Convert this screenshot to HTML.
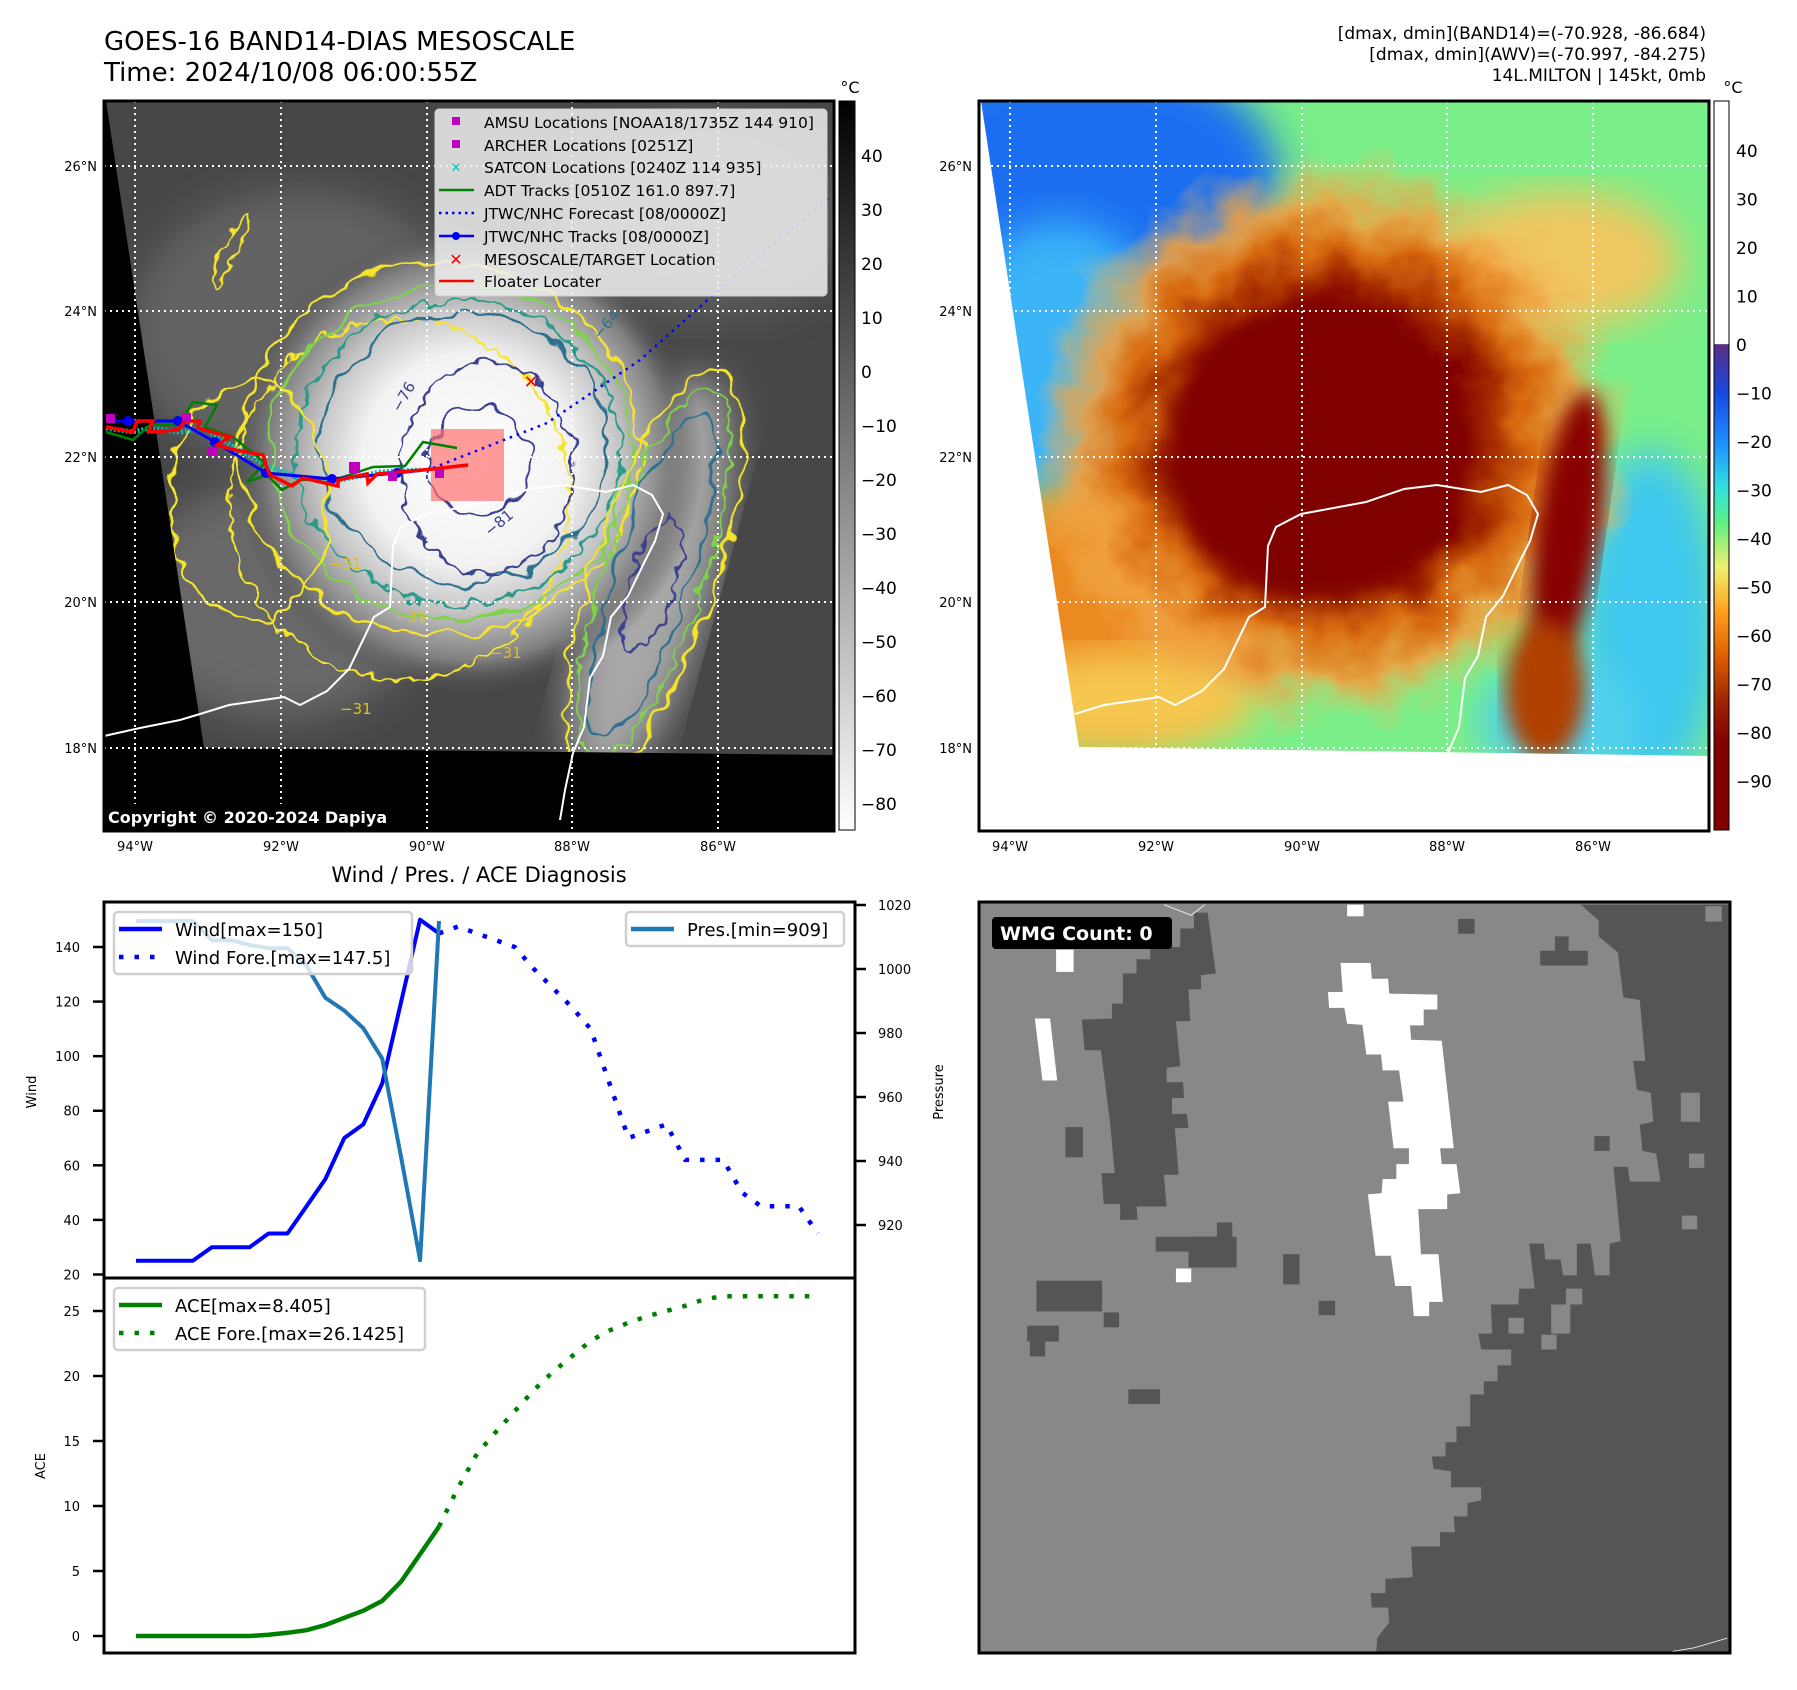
<!DOCTYPE html>
<html><head><meta charset="utf-8"><style>
html,body{margin:0;padding:0;background:#fff;}
svg{display:block;font-family:"DejaVu Sans","Liberation Sans",sans-serif;}
</style></head><body>
<svg id="fig" width="1797" height="1690" viewBox="0 0 1797 1690" xmlns="http://www.w3.org/2000/svg">
<defs>
  <clipPath id="clipL"><rect x="104" y="101" width="730" height="730"/></clipPath>
  <clipPath id="clipR"><rect x="979" y="101" width="730" height="730"/></clipPath>
  <filter id="wob" x="-20%" y="-20%" width="140%" height="140%">
    <feTurbulence type="fractalNoise" baseFrequency="0.035" numOctaves="2" seed="4"/>
    <feDisplacementMap in="SourceGraphic" scale="26" xChannelSelector="R" yChannelSelector="G"/>
  </filter>
  <filter id="wob2" x="-20%" y="-20%" width="140%" height="140%">
    <feTurbulence type="fractalNoise" baseFrequency="0.06" numOctaves="2" seed="9"/>
    <feDisplacementMap in="SourceGraphic" scale="20" xChannelSelector="R" yChannelSelector="G"/>
  </filter>
  <filter id="wob3" x="-20%" y="-20%" width="140%" height="140%">
    <feTurbulence type="fractalNoise" baseFrequency="0.02" numOctaves="3" seed="2"/>
    <feDisplacementMap in="SourceGraphic" scale="60" xChannelSelector="R" yChannelSelector="G"/>
  </filter>
  <filter id="blur20"><feGaussianBlur stdDeviation="20"/></filter>
  <filter id="blur10"><feGaussianBlur stdDeviation="10"/></filter>
  <radialGradient id="eyeG" cx="0.5" cy="0.5" r="0.5">
    <stop offset="0" stop-color="#ffffff"/>
    <stop offset="0.45" stop-color="#f2f2f2"/>
    <stop offset="0.65" stop-color="#c4c4c4"/>
    <stop offset="0.85" stop-color="#808080"/>
    <stop offset="1" stop-color="#4a4a4a" stop-opacity="0"/>
  </radialGradient>
  <radialGradient id="stormG" cx="0.5" cy="0.5" r="0.5">
    <stop offset="0" stop-color="#800000"/>
    <stop offset="0.45" stop-color="#820000"/>
    <stop offset="0.56" stop-color="#a83000"/>
    <stop offset="0.68" stop-color="#d86a10"/>
    <stop offset="0.82" stop-color="#f0a040" stop-opacity="0.9"/>
    <stop offset="1" stop-color="#f0c060" stop-opacity="0"/>
  </radialGradient>
  <linearGradient id="cbGray" x1="0" y1="0" x2="0" y2="1">
    <stop offset="0" stop-color="#000"/><stop offset="1" stop-color="#fff"/>
  </linearGradient>
  <linearGradient id="cbJet" x1="0" y1="0" x2="0" y2="1">
    <stop offset="0" stop-color="#fff"/>
    <stop offset="0.333" stop-color="#fff"/>
    <stop offset="0.334" stop-color="#5a2d82"/>
    <stop offset="0.40" stop-color="#1848e0"/>
    <stop offset="0.47" stop-color="#1e90ff"/>
    <stop offset="0.53" stop-color="#30e0e0"/>
    <stop offset="0.58" stop-color="#60f080"/>
    <stop offset="0.64" stop-color="#f0f070"/>
    <stop offset="0.70" stop-color="#ffa020"/>
    <stop offset="0.76" stop-color="#e06000"/>
    <stop offset="0.82" stop-color="#a02800"/>
    <stop offset="0.88" stop-color="#800000"/>
    <stop offset="1" stop-color="#800000"/>
  </linearGradient>
</defs>

<text x="104" y="50" font-size="26" fill="#000">GOES-16 BAND14-DIAS MESOSCALE</text>
<text x="104" y="81" font-size="26" fill="#000">Time: 2024/10/08 06:00:55Z</text>
<g font-size="17" text-anchor="end" fill="#000">
  <text x="1706" y="39">[dmax, dmin](BAND14)=(-70.928, -86.684)</text>
  <text x="1706" y="60">[dmax, dmin](AWV)=(-70.997, -84.275)</text>
  <text x="1706" y="81">14L.MILTON | 145kt, 0mb</text>
</g>

<!-- LEFT MAP -->
<g>
  <g clip-path="url(#clipL)">
    <rect x="104" y="101" width="730" height="730" fill="#474747"/>
    <ellipse cx="300" cy="330" rx="170" ry="140" fill="#707070" filter="url(#blur20)" opacity="0.7"/>
    <ellipse cx="700" cy="220" rx="150" ry="100" fill="#6a6a6a" filter="url(#blur20)" opacity="0.6"/>
    <ellipse cx="280" cy="600" rx="150" ry="120" fill="#777" filter="url(#blur20)" opacity="0.7"/>
    <ellipse cx="650" cy="580" rx="60" ry="210" transform="rotate(15 650 580)" fill="#a8a8a8" filter="url(#blur20)"/>
    <circle cx="468" cy="460" r="235" fill="url(#eyeG)"/>
    <g fill="none" stroke-width="2.5">
      <ellipse cx="440" cy="450" rx="200" ry="185" stroke="#f5e52a" filter="url(#wob)"/>
      <ellipse cx="400" cy="500" rx="170" ry="180" stroke="#f5e52a" filter="url(#wob2)"/>
      <ellipse cx="452" cy="452" rx="180" ry="168" stroke="#7ed348" filter="url(#wob)"/>
      <ellipse cx="458" cy="452" rx="162" ry="152" stroke="#2a9a8a" filter="url(#wob2)"/>
      <ellipse cx="464" cy="448" rx="143" ry="135" stroke="#2d6f8e" filter="url(#wob)"/>
      <ellipse cx="487" cy="468" rx="86" ry="106" stroke="#3b3f8f" filter="url(#wob2)"/>
      <ellipse cx="478" cy="462" rx="50" ry="55" stroke="#3b3f8f" filter="url(#wob)"/>
      <ellipse cx="654" cy="574" rx="62" ry="215" transform="rotate(18 654 574)" stroke="#f5e52a" filter="url(#wob)"/>
      <ellipse cx="654" cy="574" rx="50" ry="195" transform="rotate(18 654 574)" stroke="#7ed348" filter="url(#wob2)"/>
      <ellipse cx="654" cy="574" rx="38" ry="170" transform="rotate(18 654 574)" stroke="#2d6f8e" filter="url(#wob)"/>
      <ellipse cx="652" cy="585" rx="22" ry="70" transform="rotate(18 652 585)" stroke="#3b3f8f" filter="url(#wob2)"/>
      <ellipse cx="250" cy="500" rx="80" ry="120" stroke="#f5e52a" filter="url(#wob)"/>
      <ellipse cx="230" cy="250" rx="8" ry="40" transform="rotate(25 230 250)" stroke="#f5e52a" filter="url(#wob2)"/>
    </g>
    <g font-size="15">
      <text x="400" y="413" fill="#3b3f8f" transform="rotate(-60 400 413)">−76</text>
      <text x="490" y="537" fill="#3b3f8f" transform="rotate(-40 490 537)">−81</text>
      <text x="600" y="340" fill="#2d6f8e" transform="rotate(-50 600 340)">−64</text>
      <text x="330" y="569" fill="#e0c020">−31</text>
      <text x="395" y="622" fill="#e0c020">−31</text>
      <text x="490" y="658" fill="#e0c020">−31</text>
      <text x="340" y="714" fill="#e0c020">−31</text>
    </g>
    <polygon points="104,101 106,101 204,748 834,755 834,831 104,831" fill="#000"/>
    <polyline fill="none" stroke="#fff" stroke-width="2" points="200,714 229,705 284,697 300,705 327,691 349,669 374,617 390,607 393,546 401,527 426,514 491,502 529,489 562,485 606,492 633,485 652,495 663,514 655,541 644,563 628,596 611,617 603,656 590,678 584,727 573,753 565,790 560,820"/>
    <polyline fill="none" stroke="#fff" stroke-width="2" points="104,736 140,728 180,720 200,714"/>
    <g stroke="#fff" stroke-width="2" stroke-dasharray="2,4">
      <line x1="135" y1="101" x2="135" y2="831"/><line x1="281" y1="101" x2="281" y2="831"/>
      <line x1="427" y1="101" x2="427" y2="831"/><line x1="572" y1="101" x2="572" y2="831"/>
      <line x1="718" y1="101" x2="718" y2="831"/>
      <line x1="104" y1="166" x2="834" y2="166"/><line x1="104" y1="311" x2="834" y2="311"/>
      <line x1="104" y1="457" x2="834" y2="457"/><line x1="104" y1="602" x2="834" y2="602"/>
      <line x1="104" y1="748" x2="834" y2="748"/>
    </g>
    <rect x="431" y="429" width="73" height="72" fill="#ff7070" opacity="0.7"/>
    <polyline fill="none" stroke="#0000ff" stroke-width="2.5" stroke-dasharray="2.5,5" points="433,468 547,423 640,360 730,280 829,198"/>
    <polyline fill="none" stroke="#00c0c0" stroke-width="5" stroke-dasharray="2,2" points="106,428 133,432 150,428 180,432 205,428 235,448 265,465 300,478 340,480 380,472 420,470"/>
    <polyline fill="none" stroke="#008000" stroke-width="2.5" points="106,432 133,440 150,425 178,425 193,402 217,405 205,427 233,437 265,463 247,482 267,475 282,490 300,480 340,478 373,467 405,466 423,442 457,448"/>
    <polyline fill="none" stroke="#0000ff" stroke-width="3" points="106,421 128,421 178,421 215,442 266,473 332,479 397,473 433,469"/>
    <g fill="#0000ff">
      <circle cx="128" cy="421" r="5"/><circle cx="178" cy="421" r="5"/><circle cx="215" cy="442" r="5"/>
      <circle cx="266" cy="473" r="5"/><circle cx="332" cy="479" r="5"/><circle cx="397" cy="473" r="5"/>
    </g>
    <polyline fill="none" stroke="#ff0000" stroke-width="3.5" points="106,427 133,432 137,421 153,421 149,432 178,430 185,421 200,421 198,428 230,437 217,445 235,450 263,455 267,468 270,475 292,486 303,478 338,486 338,480 367,474 368,483 377,474 433,469 468,465"/>
    <g fill="#c000c0">
      <rect x="106" y="414" width="9" height="9"/><rect x="182" y="413" width="9" height="9"/><rect x="208" y="447" width="9" height="9"/>
      <rect x="349" y="462" width="11" height="11"/><rect x="388" y="472" width="9" height="9"/><rect x="435" y="469" width="9" height="9"/>
    </g>
    <text x="531" y="388" font-size="18" font-weight="bold" fill="#ff0000" text-anchor="middle">✕</text>
    <g>
      <rect x="435" y="109" width="392" height="187" rx="4" fill="#f0f0f0" fill-opacity="0.85" stroke="#d0d0d0"/>
      <g font-size="15.5" fill="#000">
        <rect x="452" y="117" width="8" height="8" fill="#c000c0"/><text x="484" y="128">AMSU Locations [NOAA18/1735Z 144 910]</text>
        <rect x="452" y="140" width="8" height="8" fill="#c000c0"/><text x="484" y="151">ARCHER Locations [0251Z]</text>
        <text x="456" y="172" fill="#00c0c0" text-anchor="middle" font-size="13" font-weight="bold">✕</text><text x="484" y="173">SATCON Locations [0240Z 114 935]</text>
        <line x1="439" y1="190" x2="474" y2="190" stroke="#008000" stroke-width="2.5"/><text x="484" y="196">ADT Tracks [0510Z 161.0 897.7]</text>
        <line x1="439" y1="213" x2="474" y2="213" stroke="#0000ff" stroke-width="2.5" stroke-dasharray="2.5,4"/><text x="484" y="219">JTWC/NHC Forecast [08/0000Z]</text>
        <line x1="439" y1="236" x2="474" y2="236" stroke="#0000ff" stroke-width="2.5"/><circle cx="456" cy="236" r="4" fill="#0000ff"/><text x="484" y="242">JTWC/NHC Tracks [08/0000Z]</text>
        <text x="456" y="265" fill="#ff0000" text-anchor="middle" font-size="16" font-weight="bold">✕</text><text x="484" y="265">MESOSCALE/TARGET Location</text>
        <line x1="439" y1="281" x2="474" y2="281" stroke="#ff0000" stroke-width="2.5"/><text x="484" y="287">Floater Locater</text>
      </g>
    </g>
    <rect x="104" y="804" width="306" height="26" rx="3" fill="#000"/>
    <text x="108" y="823" font-size="16" font-weight="bold" fill="#fff">Copyright © 2020-2024 Dapiya</text>
  </g>
  <rect x="104" y="101" width="730" height="730" fill="none" stroke="#000" stroke-width="3"/>
</g>
<g font-size="13" text-anchor="end">
  <text x="97" y="171">26°N</text><text x="97" y="316">24°N</text><text x="97" y="462">22°N</text><text x="97" y="607">20°N</text><text x="97" y="753">18°N</text>
</g>
<g font-size="13" text-anchor="middle">
  <text x="135" y="851">94°W</text><text x="281" y="851">92°W</text><text x="427" y="851">90°W</text><text x="572" y="851">88°W</text><text x="718" y="851">86°W</text>
</g>
<g>
  <rect x="839" y="101" width="16" height="729" fill="url(#cbGray)" stroke="#000" stroke-width="1"/>
  <text x="850" y="93" font-size="16" text-anchor="middle">°C</text>
  <g id="cbL" font-size="17"></g>
</g>

<!-- RIGHT MAP -->
<g>
  <g clip-path="url(#clipR)">
    <rect x="979" y="101" width="730" height="730" fill="#fff"/>
    <rect x="979" y="101" width="730" height="660" fill="#7aee88"/>
    <ellipse cx="1080" cy="180" rx="200" ry="130" fill="#1e6ef0" filter="url(#blur20)"/>
    <ellipse cx="1060" cy="360" rx="110" ry="140" fill="#3ab4f8" filter="url(#blur20)"/>
    <ellipse cx="1650" cy="620" rx="70" ry="170" fill="#40c8f0" filter="url(#blur20)"/>
    <ellipse cx="1560" cy="720" rx="80" ry="60" fill="#50d0f0" filter="url(#blur20)"/>
    <ellipse cx="1110" cy="610" rx="150" ry="130" fill="#ec8a20" filter="url(#blur20)"/>
    <ellipse cx="1130" cy="700" rx="130" ry="50" fill="#f6c850" filter="url(#blur20)"/>
    <ellipse cx="1560" cy="260" rx="120" ry="70" fill="#f0c860" filter="url(#blur20)"/>
    <ellipse cx="1330" cy="440" rx="300" ry="285" fill="url(#stormG)" filter="url(#wob3)"/>
    <ellipse cx="1320" cy="450" rx="150" ry="150" fill="#800000" filter="url(#blur10)"/>
    <ellipse cx="1568" cy="530" rx="32" ry="140" transform="rotate(8 1568 530)" fill="#880000" filter="url(#blur10)"/>
    <ellipse cx="1545" cy="690" rx="40" ry="70" fill="#b04000" filter="url(#blur10)"/>
    <polygon points="979,101 981,101 1079,747 1709,756 1709,831 979,831" fill="#fff"/>
    <polyline fill="none" stroke="#fff" stroke-width="2" points="1075,714 1104,705 1159,697 1175,705 1202,691 1224,669 1249,617 1265,607 1268,546 1276,527 1301,514 1366,502 1404,489 1437,485 1481,492 1508,485 1527,495 1538,514 1530,541 1519,563 1503,596 1486,617 1478,656 1465,678 1459,727 1448,753"/>
    <g stroke="#fff" stroke-width="2" stroke-dasharray="2,4">
      <line x1="1010" y1="101" x2="1010" y2="831"/><line x1="1156" y1="101" x2="1156" y2="831"/>
      <line x1="1302" y1="101" x2="1302" y2="831"/><line x1="1447" y1="101" x2="1447" y2="831"/>
      <line x1="1593" y1="101" x2="1593" y2="831"/>
      <line x1="979" y1="166" x2="1709" y2="166"/><line x1="979" y1="311" x2="1709" y2="311"/>
      <line x1="979" y1="457" x2="1709" y2="457"/><line x1="979" y1="602" x2="1709" y2="602"/>
      <line x1="979" y1="748" x2="1709" y2="748"/>
    </g>
  </g>
  <rect x="979" y="101" width="730" height="730" fill="none" stroke="#000" stroke-width="3"/>
</g>
<g font-size="13" text-anchor="end">
  <text x="972" y="171">26°N</text><text x="972" y="316">24°N</text><text x="972" y="462">22°N</text><text x="972" y="607">20°N</text><text x="972" y="753">18°N</text>
</g>
<g font-size="13" text-anchor="middle">
  <text x="1010" y="851">94°W</text><text x="1156" y="851">92°W</text><text x="1302" y="851">90°W</text><text x="1447" y="851">88°W</text><text x="1593" y="851">86°W</text>
</g>
<g>
  <rect x="1714" y="101" width="15" height="729" fill="url(#cbJet)" stroke="#000" stroke-width="1"/>
  <text x="1733" y="93" font-size="16" text-anchor="middle">°C</text>
  <g id="cbR" font-size="17"></g>
</g>

<!-- CHART -->
<text x="479" y="882" font-size="21" text-anchor="middle">Wind / Pres. / ACE Diagnosis</text>
<g id="chart"></g>

<!-- WMG -->
<g>
  <svg x="979" y="902" width="751" height="751" viewBox="72 80 1373 1418" preserveAspectRatio="none">
    <rect x="72" y="80" width="1373" height="1418" fill="#888888"/>
    <g fill="#555555">
      <polygon points="1172,85 1205,115 1205,145 1240,175 1250,260 1280,265 1290,380 1268,380 1275,435 1300,440 1305,495 1280,500 1285,550 1310,555 1318,608 1262,608 1258,580 1232,580 1245,720 1225,725 1225,785 1198,785 1190,725 1165,725 1165,785 1140,785 1135,755 1107,755 1105,725 1078,725 1088,810 1060,810 1058,840 1008,840 1010,895 985,895 990,925 1045,925 1045,955 1020,955 1020,985 995,985 995,1010 970,1010 970,1070 945,1070 945,1100 925,1100 925,1127 900,1127 903,1150 935,1155 935,1185 990,1185 990,1210 965,1215 965,1240 940,1240 942,1270 915,1270 915,1297 862,1297 865,1355 815,1358 815,1385 788,1385 790,1412 820,1412 822,1440 800,1470 798,1498 1445,1498 1445,85"/>
      <polygon points="465,100 490,100 505,215 478,218 478,245 455,245 458,305 432,305 440,390 415,393 415,420 445,420 447,450 425,450 425,480 452,480 455,507 430,507 437,595 410,595 415,655 360,655 362,680 330,680 330,650 300,650 296,592 320,592 312,500 295,360 265,360 260,302 315,300 315,272 335,272 335,215 360,215 360,188 385,188 385,165 440,165 440,130 465,130"/>
      <rect x="395" y="712" width="115" height="28"/><rect x="455" y="712" width="88" height="58"/><rect x="507" y="685" width="28" height="30"/>
      <rect x="628" y="745" width="30" height="57"/><rect x="693" y="833" width="30" height="27"/><rect x="230" y="505" width="32" height="57"/>
      <rect x="177" y="795" width="120" height="58"/><rect x="300" y="855" width="28" height="28"/><rect x="160" y="880" width="58" height="30"/>
      <rect x="165" y="910" width="28" height="28"/><rect x="345" y="1000" width="58" height="28"/><rect x="948" y="112" width="30" height="28"/>
      <rect x="1125" y="145" width="25" height="30"/><rect x="1098" y="172" width="87" height="28"/><rect x="1197" y="522" width="28" height="28"/>
    </g>
    <g fill="#888888">
      <rect x="1355" y="440" width="35" height="55"/><rect x="1370" y="555" width="28" height="27"/><rect x="1357" y="672" width="28" height="26"/>
      <rect x="1400" y="88" width="30" height="29"/><rect x="1040" y="865" width="28" height="30"/><rect x="1100" y="897" width="28" height="28"/>
      <rect x="1118" y="840" width="35" height="55"/><rect x="1145" y="810" width="30" height="30"/><rect x="938" y="1213" width="27" height="27"/>
    </g>
    <g fill="#ffffff">
      <rect x="745" y="85" width="30" height="22"/><rect x="213" y="170" width="32" height="42"/>
      <polygon points="174,300 202,300 215,417 188,417"/><rect x="432" y="772" width="28" height="26"/>
      <polygon points="733,195 788,195 790,225 820,225 822,253 910,255 910,283 885,283 885,313 860,313 862,340 918,342 940,545 915,545 918,575 945,575 952,630 928,632 928,660 875,660 880,745 912,745 920,835 895,835 895,862 867,862 862,805 833,805 825,748 797,748 783,632 808,630 810,603 835,603 835,575 858,575 858,545 830,545 820,457 848,457 840,398 810,398 807,368 780,368 773,312 745,310 740,280 712,280 710,250 737,250"/>
    </g>
    <polyline points="410,85 460,105 485,85" fill="none" stroke="#fff" stroke-width="1.5"/>
    <polyline points="1340,1495 1380,1488 1440,1470" fill="none" stroke="#fff" stroke-width="1.5"/>
  </svg>
  <rect x="979" y="902" width="751" height="751" fill="none" stroke="#000" stroke-width="3"/>
  <rect x="992" y="917" width="180" height="32" rx="4" fill="#000"/>
  <text x="1000" y="940" font-size="19" font-weight="bold" fill="#fff">WMG Count: 0</text>
</g>

<script>
const windObs = [25,25,25,25,30,30,30,35,35,45,55,70,75,90,120,150,145];
const windFc = [145,147.5,145,142.5,140,132,125,118,110,90,70,72.5,75,62,62,62,50,45,45,45,35];
const presObs = [1015,1015,1015,1015,1009,1009,1007.5,1006.5,1006.5,1001,991,987,981.5,972,941,909,1015];
const aceObs = [0,0,0,0,0,0,0,0.1,0.25,0.45,0.85,1.4,1.95,2.7,4.2,6.3,8.405];
const aceFc = [8.405,11.4,14.0,15.7,17.3,18.9,20.3,21.5,22.7,23.5,24.1,24.6,25.0,25.4,25.9,26.14,26.14,26.14,26.14,26.14,26.14];
const windTicks = [20,40,60,80,100,120,140];
const presTicks = [920,940,960,980,1000,1020];
const aceTicks = [0,5,10,15,20,25];
const cbLTicks = [40,30,20,10,0,-10,-20,-30,-40,-50,-60,-70,-80];
const cbRTicks = [40,30,20,10,0,-10,-20,-30,-40,-50,-60,-70,-80,-90];

const NS = 'http://www.w3.org/2000/svg';
function mk(tag, attrs, parent){ const e=document.createElementNS(NS,tag); for(const k in attrs) e.setAttribute(k,attrs[k]); parent.appendChild(e); return e; }
const xAt = i => 136 + i*18.94;
const yWind = v => 947 + (140 - v)*2.729;
const yPres = v => 905 + (1020 - v)*3.2;
const yAce = v => 1636 - v*13;
const yCbL = v => 156 + (40 - v)*5.4;
const yCbR = v => 151 + (40 - v)*4.85;

const cbL = document.getElementById('cbL');
cbLTicks.forEach(v=>{
  const t = mk('text',{x:861,y:yCbL(v)+6},cbL); t.textContent = v<0 ? '\u2212'+(-v) : String(v);
  
  
});
const cbR = document.getElementById('cbR');
cbRTicks.forEach(v=>{
  const t = mk('text',{x:1736,y:yCbR(v)+6},cbR); t.textContent = v<0 ? '\u2212'+(-v) : String(v);
  
  
});

const ch = document.getElementById('chart');
function pts(arr, off, yf){ return arr.map((v,i)=>xAt(i+off).toFixed(1)+','+yf(v).toFixed(1)).join(' '); }
mk('rect',{x:104,y:902,width:751,height:376,fill:'none',stroke:'#000','stroke-width':3},ch);
mk('rect',{x:104,y:1278,width:751,height:375,fill:'none',stroke:'#000','stroke-width':3},ch);
windTicks.forEach(v=>{ const y=yWind(v); mk('line',{x1:93,y1:y,x2:104,y2:y,stroke:'#000','stroke-width':2.5},ch);
  const t=mk('text',{x:80,y:y+5,'font-size':13,'text-anchor':'end'},ch); t.textContent=v;
  
   });
presTicks.forEach(v=>{ const y=yPres(v); mk('line',{x1:855,y1:y,x2:866,y2:y,stroke:'#000','stroke-width':2.5},ch);
  const t=mk('text',{x:878,y:y+5,'font-size':13},ch); t.textContent=v;
  
   });
aceTicks.forEach(v=>{ const y=yAce(v); mk('line',{x1:93,y1:y,x2:104,y2:y,stroke:'#000','stroke-width':2.5},ch);
  const t=mk('text',{x:80,y:y+5,'font-size':13,'text-anchor':'end'},ch); t.textContent=v;
  
   });
let at=mk('text',{x:36,y:1092,'font-size':13,'text-anchor':'middle',transform:'rotate(-90 36 1092)'},ch); at.textContent='Wind';


at=mk('text',{x:943,y:1092,'font-size':13,'text-anchor':'middle',transform:'rotate(-90 943 1092)'},ch); at.textContent='Pressure';


at=mk('text',{x:45,y:1466,'font-size':13,'text-anchor':'middle',transform:'rotate(-90 45 1466)'},ch); at.textContent='ACE';


let s;
s=mk('polyline',{points:pts(windFc,16,yWind),fill:'none',stroke:'#0000ff','stroke-width':4.5,'stroke-dasharray':'4.5,11'},ch);


s=mk('polyline',{points:pts(windObs,0,yWind),fill:'none',stroke:'#0000ff','stroke-width':4,'stroke-linejoin':'round'},ch);


s=mk('polyline',{points:pts(presObs,0,yPres),fill:'none',stroke:'#1f77b4','stroke-width':4,'stroke-linejoin':'round'},ch);


s=mk('polyline',{points:pts(aceFc,16,yAce),fill:'none',stroke:'#008000','stroke-width':4.5,'stroke-dasharray':'4.5,11'},ch);


s=mk('polyline',{points:pts(aceObs,0,yAce),fill:'none',stroke:'#008000','stroke-width':4.5,'stroke-linejoin':'round'},ch);


function legend(name,x,y,w,h,rows){
  const g=mk('g',{},ch);
  
  
  mk('rect',{x:x,y:y,width:w,height:h,rx:4,fill:'#fff','fill-opacity':0.8,stroke:'#d0d0d0','stroke-width':2.5},g);
  rows.forEach((r,i)=>{ const ry=y+17+i*28;
    const a={x1:x+5,y1:ry,x2:x+48,y2:ry,stroke:r.c,'stroke-width':4.5}; if(r.d) a['stroke-dasharray']='4.5,11';
    mk('line',a,g);
    const t=mk('text',{x:x+61,y:ry+7,'font-size':18},g); t.textContent=r.t; });
}
legend('wind-legend',114,912,298,62,[{c:'#0000ff',t:'Wind[max=150]'},{c:'#0000ff',t:'Wind Fore.[max=147.5]',d:1}]);
legend('pressure-legend',626,912,218,34,[{c:'#1f77b4',t:'Pres.[min=909]'}]);
legend('ace-legend',114,1288,311,62,[{c:'#008000',t:'ACE[max=8.405]'},{c:'#008000',t:'ACE Fore.[max=26.1425]',d:1}]);
</script>
</svg>
</body></html>
